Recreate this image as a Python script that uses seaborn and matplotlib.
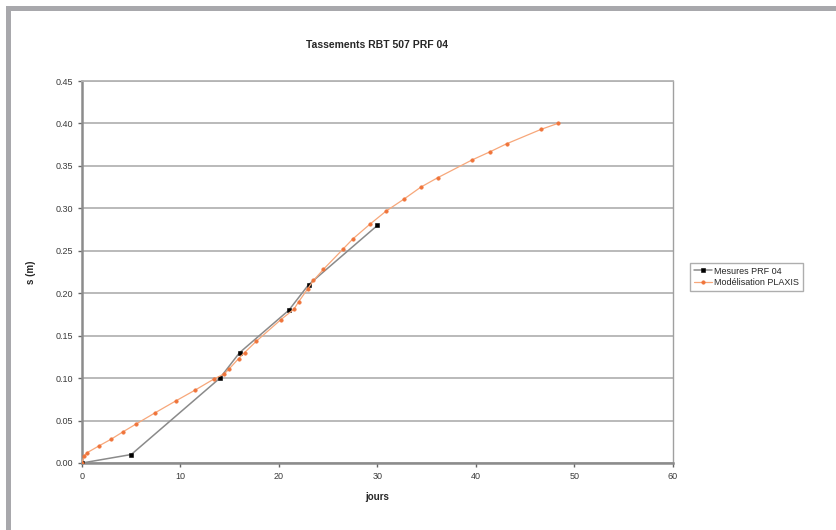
import matplotlib
matplotlib.use("Agg")
import matplotlib.pyplot as plt
import seaborn as sns
import pandas as pd
from matplotlib.patches import Rectangle

# Mesures PRF 04
jours_mes = [0, 5, 14, 16, 21, 23, 30]
s_mes = [0.0, 0.01, 0.10, 0.13, 0.18, 0.21, 0.28]

# Modélisation PLAXIS
jours_plx = [0, 0.2, 0.5, 1.7, 2.95, 4.2, 5.5, 7.4, 9.5, 11.5, 13.4, 14.45, 14.95,
             15.9, 16.5, 17.7, 20.2, 21.5, 22.0, 22.9, 23.5, 24.5, 26.5, 27.5,
             29.2, 30.9, 32.7, 34.4, 36.1, 39.6, 41.4, 43.1, 46.6, 48.3]
s_plx = [0.0, 0.008, 0.012, 0.020, 0.028, 0.037, 0.046, 0.059, 0.073, 0.086, 0.099,
         0.105, 0.111, 0.123, 0.130, 0.1435, 0.169, 0.181, 0.190, 0.205, 0.215,
         0.228, 0.252, 0.264, 0.281, 0.297, 0.311, 0.325, 0.336, 0.357, 0.3665,
         0.376, 0.393, 0.400]

x_ticks = [0, 10, 20, 30, 40, 50, 60]
y_ticks = [0.0, 0.05, 0.10, 0.15, 0.20, 0.25, 0.30, 0.35, 0.40, 0.45]

sns.set_style("white")
plt.rcParams['font.family'] = ['Liberation Sans', 'DejaVu Sans']

df_mes = pd.DataFrame({"jours": jours_mes, "s": s_mes})
df_plx = pd.DataFrame({"jours": jours_plx, "s": s_plx})

fig = plt.figure(figsize=(8.37, 5.3), dpi=100)
ax = fig.add_axes([82 / 837, 1 - 463 / 530, (673 - 82) / 837, (463 - 81) / 530])

# cadre gris
fig.add_artist(Rectangle((6 / 837, 1 - 11 / 530), 1 - 6 / 837, 5 / 530,
                         transform=fig.transFigure, color="#a8a8ac", lw=0))
fig.add_artist(Rectangle((6 / 837, 0), 5 / 837, 1 - 6 / 530,
                         transform=fig.transFigure, color="#a8a8ac", lw=0))

ax.grid(axis='y', color="#b4b4b4", lw=1.3)
ax.set_axisbelow(True)

sns.lineplot(data=df_mes, x="jours", y="s", sort=False, ax=ax, color="#8a8a8a",
             lw=1.1, marker='s', markersize=3.2, markerfacecolor="black",
             markeredgecolor="black", markeredgewidth=0.4,
             label="Mesures PRF 04", zorder=3)
sns.lineplot(data=df_plx, x="jours", y="s", sort=False, ax=ax, color="#f7a77a",
             lw=0.9, marker='o', markersize=2.6, markerfacecolor="#f0743a",
             markeredgecolor="#f0743a", markeredgewidth=0.3,
             label="Modélisation PLAXIS", zorder=4)

ax.set_xlim(0, 60)
ax.set_ylim(0, 0.45)
ax.set_xticks(x_ticks)
ax.set_yticks(y_ticks)
ax.set_yticklabels([f"{v:.2f}" for v in y_ticks])
ax.tick_params(axis='both', labelsize=6.5, colors="#666666", labelcolor="#3a3a3a",
               length=3, width=1, direction='out', bottom=True, left=True)

for side in ['left', 'bottom']:
    ax.spines[side].set_color("#8c8c8c")
    ax.spines[side].set_linewidth(1.8)
ax.spines['right'].set_color("#a0a0a0")
ax.spines['right'].set_linewidth(1.0)
ax.spines['top'].set_color("#b4b4b4")
ax.spines['top'].set_linewidth(1.3)

ax.set_xlabel("jours", fontsize=7, fontweight='bold', labelpad=8)
ax.set_ylabel("s (m)", fontsize=7, fontweight='bold', labelpad=14)

fig.text(377 / 837, 1 - 45 / 530, "Tassements RBT 507 PRF 04", ha='center',
         va='center', fontsize=7.5, fontweight='bold')

leg = ax.legend(loc='center left', bbox_to_anchor=(690 / 837, 1 - 277 / 530),
                bbox_transform=fig.transFigure, fontsize=6.5, frameon=True,
                fancybox=False, edgecolor="#9a9a9a", handlelength=2.0,
                borderpad=0.4, labelspacing=0.3, handletextpad=0.3,
                borderaxespad=0)
leg.get_frame().set_linewidth(1.0)

fig.savefig("out.png", dpi=100, facecolor="white")
